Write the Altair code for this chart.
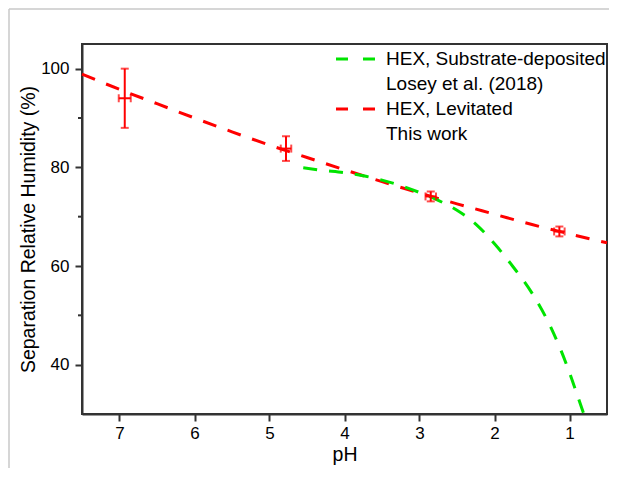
import altair as alt
import pandas as pd

# --- data ---
red_ph = [7.5, 7.0, 6.5, 6.0, 5.5, 5.0, 4.5, 4.0, 3.5, 3.0, 2.5, 2.0, 1.5, 1.0, 0.5]
red_rh = [98.9, 95.8, 92.9, 90.0, 87.2, 84.5, 82.0, 79.5, 77.1, 74.8, 72.6, 70.5, 68.4, 66.5, 64.7]

green_ph = [4.55, 4.3, 4.0, 3.75, 3.5, 3.25, 3.0, 2.75, 2.5, 2.25, 2.0, 1.75, 1.5, 1.25, 1.0, 0.9, 0.81]
green_rh = [79.9, 79.4, 78.9, 78.3, 77.4, 76.3, 74.9, 73.3, 71.3, 68.5, 64.5, 59.8, 54.5, 47.6, 38.4, 34.0, 30.0]

pts_ph = [6.93, 4.78, 2.85, 1.135]
pts_rh = [94.0, 83.8, 74.1, 67.0]
pts_yerr = [6.0, 2.5, 1.0, 1.0]
pts_xerr = [0.08, 0.07, 0.07, 0.07]

x_ticks = [1, 2, 3, 4, 5, 6, 7]
y_ticks = [40, 60, 80, 100]
y_minor = [50, 70, 90]

legend_labels = [["HEX, Substrate-deposited", "Losey et al. (2018)"], ["HEX, Levitated", "This work"]]
legend_colors = ["#00e400", "#ff0000"]

RED = "#ff0000"
GREEN = "#00e400"
FONT = "Liberation Sans"

red_df = pd.DataFrame({"pH": red_ph, "RH": red_rh})
green_df = pd.DataFrame({"pH": green_ph, "RH": green_rh})
pts = pd.DataFrame({"pH": pts_ph, "RH": pts_rh, "yerr": pts_yerr, "xerr": pts_xerr})
pts["ylo"] = pts["RH"] - pts["yerr"]
pts["yhi"] = pts["RH"] + pts["yerr"]
pts["xlo"] = pts["pH"] - pts["xerr"]
pts["xhi"] = pts["pH"] + pts["xerr"]
minor_df = pd.DataFrame({"RH": y_minor})

xscale = alt.Scale(domain=[0.5, 7.5], reverse=True, nice=False, zero=False)
yscale = alt.Scale(domain=[30, 105], nice=False, zero=False)

xax = alt.Axis(values=x_ticks, title="pH", titlePadding=4, labelPadding=4, format="d")
yax = alt.Axis(values=y_ticks, title="Separation Relative Humidity (%)", titlePadding=2, labelPadding=6)

X = alt.X("pH:Q", scale=xscale, axis=xax)
Y = alt.Y("RH:Q", scale=yscale, axis=yax)

dash = [14, 12]
EW = 2

red_line = alt.Chart(red_df).mark_line(color=RED, strokeWidth=3, strokeDash=dash, interpolate="monotone").encode(
    x=X, y=Y, order=alt.Order("pH:Q", sort="descending"))
green_line = alt.Chart(green_df).mark_line(color=GREEN, strokeWidth=3, strokeDash=dash, interpolate="monotone", clip=True).encode(
    x=X, y=Y, order=alt.Order("pH:Q", sort="descending"))

vbar = alt.Chart(pts).mark_rule(color=RED, strokeWidth=EW).encode(
    x=X, y=alt.Y("ylo:Q", scale=yscale), y2="yhi:Q")
hbar = alt.Chart(pts).mark_rule(color=RED, strokeWidth=EW).encode(
    x=alt.X("xlo:Q", scale=xscale), x2="xhi:Q", y=Y)
cap_top = alt.Chart(pts).mark_tick(color=RED, thickness=EW, size=8, orient="horizontal").encode(
    x=X, y=alt.Y("yhi:Q", scale=yscale))
cap_bot = alt.Chart(pts).mark_tick(color=RED, thickness=EW, size=8, orient="horizontal").encode(
    x=X, y=alt.Y("ylo:Q", scale=yscale))
cap_l = alt.Chart(pts).mark_tick(color=RED, thickness=EW, size=8, orient="vertical").encode(
    x=alt.X("xlo:Q", scale=xscale), y=Y)
cap_r = alt.Chart(pts).mark_tick(color=RED, thickness=EW, size=8, orient="vertical").encode(
    x=alt.X("xhi:Q", scale=xscale), y=Y)

minor = alt.Chart(minor_df).mark_rule(color="#333333", strokeWidth=2).encode(
    y=alt.Y("RH:Q", scale=yscale), x=alt.value(-4), x2=alt.value(0))

# manual legend (top-right, inside plot)
leg_layers = []
rows_y = [15, 65]
for i, (lines, col) in enumerate(zip(legend_labels, legend_colors)):
    yy = rows_y[i]
    leg_layers.append(alt.Chart(pd.DataFrame({"k": [0]})).mark_rule(color=col, strokeWidth=3, strokeDash=[12, 15]).encode(
        x=alt.value(254), x2=alt.value(295), y=alt.value(yy)))
    leg_layers.append(alt.Chart(pd.DataFrame({"t": [lines[0]]})).mark_text(
        align="left", baseline="middle", font=FONT, fontSize=19, color="black").encode(
        text="t:N", x=alt.value(304), y=alt.value(yy)))
    leg_layers.append(alt.Chart(pd.DataFrame({"t": [lines[1]]})).mark_text(
        align="left", baseline="middle", font=FONT, fontSize=19, color="black").encode(
        text="t:N", x=alt.value(304), y=alt.value(yy + 25)))

# light gray outer frame (top and left edges of the figure border)
frame_top = alt.Chart(pd.DataFrame({"k": [0]})).mark_rule(color="#c8c8c8", strokeWidth=1.5).encode(
    x=alt.value(-73), x2=alt.value(600), y=alt.value(-35))
frame_left = alt.Chart(pd.DataFrame({"k": [0]})).mark_rule(color="#c8c8c8", strokeWidth=1.5).encode(
    x=alt.value(-73), y=alt.value(-35), y2=alt.value(500))

chart = alt.layer(
    frame_top, frame_left, red_line, green_line, vbar, hbar, cap_top, cap_bot, cap_l, cap_r, minor, *leg_layers
).properties(
    width=525, height=370,
    padding={"left": 74, "top": 36, "right": 2, "bottom": 54},
    autosize=alt.AutoSizeParams(type="none"),
).configure_view(
    stroke="#333333", strokeWidth=2
).configure_axis(
    grid=False, domainColor="#333333", domainWidth=2, tickColor="#333333", tickWidth=2, tickSize=7,
    labelFont=FONT, labelFontSize=17, labelColor="black",
    titleFont=FONT, titleFontSize=19.5, titleFontWeight="normal", titleColor="black",
)

chart.save("out.html", embed_options={"renderer": "svg", "actions": False})
